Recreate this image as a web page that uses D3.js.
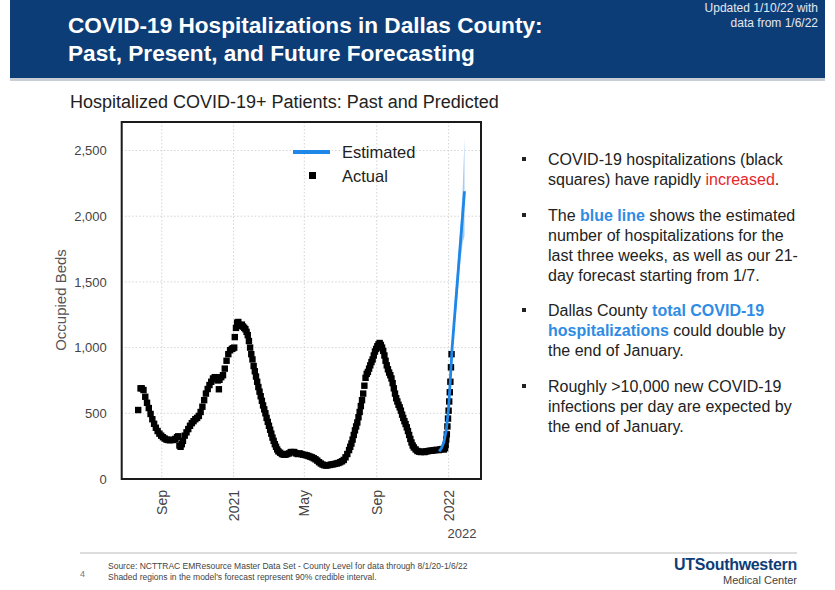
<!DOCTYPE html>
<html><head><meta charset="utf-8">
<script src="https://cdnjs.cloudflare.com/ajax/libs/d3/7.8.5/d3.min.js"></script>
<style>
body{margin:0;background:#fff;}
svg{display:block;font-family:"Liberation Sans",Arial,Helvetica,sans-serif;}
</style></head>
<body><svg id="c" width="835" height="590"></svg>
<script>
// ---- data ----
const actualDates = [
"2020-07-23","2020-07-27","2020-07-29","2020-08-01","2020-08-04","2020-08-07","2020-08-10","2020-08-13","2020-08-16","2020-08-19",
"2020-08-22","2020-08-25","2020-08-28","2020-08-31","2020-09-03","2020-09-06","2020-09-09","2020-09-12","2020-09-15","2020-09-18",
"2020-09-21","2020-09-24","2020-09-27","2020-09-29","2020-10-01","2020-10-03","2020-10-05","2020-10-07","2020-10-10","2020-10-13",
"2020-10-16","2020-10-19","2020-10-22","2020-10-25","2020-10-28","2020-10-31","2020-11-03","2020-11-06","2020-11-09","2020-11-12",
"2020-11-15","2020-11-18","2020-11-21","2020-11-24","2020-11-27","2020-11-30","2020-12-03","2020-12-05","2020-12-07","2020-12-08",
"2020-12-11","2020-12-14","2020-12-17","2020-12-20","2020-12-23","2020-12-26","2020-12-29","2020-12-31",
"2021-01-02","2021-01-03","2021-01-05","2021-01-07","2021-01-09","2021-01-11","2021-01-13","2021-01-15","2021-01-17","2021-01-19",
"2021-01-21","2021-01-23","2021-01-25","2021-01-27","2021-01-29","2021-01-31","2021-02-02","2021-02-04","2021-02-06","2021-02-08",
"2021-02-10","2021-02-12","2021-02-14","2021-02-16","2021-02-18","2021-02-20","2021-02-22","2021-02-24","2021-02-26","2021-02-28",
"2021-03-02","2021-03-04","2021-03-06","2021-03-08","2021-03-10","2021-03-12","2021-03-14","2021-03-16","2021-03-18","2021-03-21",
"2021-03-24","2021-03-27","2021-03-30","2021-04-02","2021-04-05","2021-04-08","2021-04-11","2021-04-14","2021-04-17","2021-04-20",
"2021-04-23","2021-04-26","2021-04-29","2021-05-02","2021-05-05","2021-05-08","2021-05-11","2021-05-14","2021-05-17","2021-05-20",
"2021-05-23","2021-05-26","2021-05-29","2021-06-01","2021-06-04","2021-06-07","2021-06-10","2021-06-13","2021-06-16","2021-06-19",
"2021-06-22","2021-06-25","2021-06-28","2021-07-01","2021-07-04","2021-07-07","2021-07-10","2021-07-13","2021-07-16","2021-07-18",
"2021-07-20","2021-07-22","2021-07-24","2021-07-26","2021-07-28","2021-07-30","2021-08-01","2021-08-03","2021-08-05","2021-08-07",
"2021-08-09","2021-08-11","2021-08-13","2021-08-15","2021-08-17","2021-08-19","2021-08-21","2021-08-23","2021-08-25","2021-08-27",
"2021-08-29","2021-08-31","2021-09-02","2021-09-04","2021-09-06","2021-09-08","2021-09-10","2021-09-12","2021-09-14","2021-09-16",
"2021-09-18","2021-09-20","2021-09-22","2021-09-24","2021-09-26","2021-09-28","2021-09-30","2021-10-02","2021-10-04","2021-10-06",
"2021-10-08","2021-10-10","2021-10-12","2021-10-14","2021-10-16","2021-10-18","2021-10-20","2021-10-22","2021-10-24","2021-10-26",
"2021-10-28","2021-10-30","2021-11-01","2021-11-03","2021-11-06","2021-11-09","2021-11-12","2021-11-15","2021-11-18","2021-11-21",
"2021-11-24","2021-11-27","2021-11-30","2021-12-03","2021-12-06","2021-12-09","2021-12-12","2021-12-15","2021-12-18","2021-12-21",
"2021-12-24","2021-12-26","2021-12-27","2021-12-28","2021-12-29","2021-12-30","2021-12-31",
"2022-01-01","2022-01-02","2022-01-03","2022-01-04","2022-01-05","2022-01-06"];
const actualValues = [
525,690,690,677,626,580,540,495,455,420,
390,365,345,330,318,308,300,297,295,298,
297,305,318,325,255,245,265,290,330,355,
380,405,425,440,455,465,480,510,550,600,
650,685,715,740,765,775,760,750,683,755,
775,790,840,900,950,980,990,995,
1000,1080,1150,1190,1195,1170,1165,1175,1160,1150,
1140,1120,1095,1050,1000,950,910,860,820,780,
740,700,665,630,595,560,530,500,465,435,
405,375,345,315,290,265,245,225,210,200,
190,185,185,190,195,205,205,205,195,190,
195,190,185,183,180,175,170,165,158,150,
140,128,118,110,105,102,105,107,110,112,
115,118,122,128,135,145,165,190,220,245,
270,300,335,370,400,430,470,510,555,600,
650,710,770,800,815,840,865,890,910,940,
970,990,1010,1025,1035,1020,1000,975,940,900,
865,835,810,790,765,730,690,650,615,590,
565,545,520,490,465,440,418,393,365,335,
305,278,255,240,225,213,208,205,208,205,
210,212,215,215,218,220,222,220,225,228,
225,235,260,300,340,400,460,
520,590,660,740,850,950];

const estDates = ["2021-12-16","2021-12-20","2021-12-24","2021-12-28","2022-01-01","2022-01-04","2022-01-07",
                  "2022-01-10","2022-01-13","2022-01-16","2022-01-19","2022-01-22","2022-01-25","2022-01-28"];
const estValues = [210,235,280,370,540,760,1000,1170,1340,1510,1680,1850,2020,2190];
const estLower  = [200,225,268,355,520,730,955,1100,1240,1380,1560,1700,1800,1850];
const estUpper  = [220,245,292,385,560,790,1045,1250,1450,1620,1780,1980,2220,2590];

const yTicks = [0,500,1000,1500,2000,2500];
const xTickDates = ["2020-09-01","2021-01-01","2021-05-01","2021-09-01","2022-01-01"];
const xTickLabels = ["Sep","2021","May","Sep","2022"];

// ---- drawing ----
const parse = d3.timeParse("%Y-%m-%d");
const svg = d3.select("#c");

// header
svg.append("rect").attr("x",10).attr("y",0).attr("width",815).attr("height",78).attr("fill","#0d3d77");
svg.append("rect").attr("x",10).attr("y",78).attr("width",815).attr("height",3).attr("fill","#c9ced6");
svg.append("text").attr("x",68).attr("y",33).attr("fill","#fff").attr("font-size",22.6).attr("font-weight","bold")
  .text("COVID-19 Hospitalizations in Dallas County:");
svg.append("text").attr("x",68).attr("y",61).attr("fill","#fff").attr("font-size",22.6).attr("font-weight","bold")
  .text("Past, Present, and Future Forecasting");
svg.append("text").attr("x",818).attr("y",12).attr("fill","#e3e8f0").attr("font-size",12).attr("text-anchor","end")
  .text("Updated 1/10/22 with");
svg.append("text").attr("x",818).attr("y",27).attr("fill","#e3e8f0").attr("font-size",12).attr("text-anchor","end")
  .text("data from 1/6/22");

svg.append("text").attr("x",70).attr("y",108).attr("fill","#222").attr("font-size",18)
  .text("Hospitalized COVID-19+ Patients: Past and Predicted");

// plot
const L=121.7, R=481, T=122, B=479;
const x = d3.scaleTime().domain([parse("2020-06-25"), parse("2022-02-25")]).range([L,R]);
const y = d3.scaleLinear().domain([0,2717]).range([B,T]);

const g = svg.append("g");
// grid
g.selectAll(".hg").data(yTicks.slice(1)).join("line")
  .attr("x1",L).attr("x2",R).attr("y1",d=>y(d)).attr("y2",d=>y(d))
  .attr("stroke","#d4d4d4").attr("stroke-width",1).attr("stroke-dasharray","1.5,2");
g.selectAll(".vg").data(xTickDates).join("line")
  .attr("x1",d=>x(parse(d))).attr("x2",d=>x(parse(d))).attr("y1",T).attr("y2",B)
  .attr("stroke","#d4d4d4").attr("stroke-width",1).attr("stroke-dasharray","1.5,2");

// y axis
const ya = svg.append("g").attr("transform",`translate(${L-12},0)`)
  .call(d3.axisLeft(y).tickValues(yTicks).tickSize(0).tickFormat(d3.format(",")));
ya.select(".domain").remove();
ya.selectAll("text").attr("fill","#444").attr("font-size",13).attr("font-family","Liberation Sans, Arial, sans-serif");

// x tick labels (rotated)
svg.selectAll(".xl").data(xTickDates).join("text")
  .attr("transform",(d)=>`translate(${x(parse(d))},490) rotate(-90)`)
  .attr("text-anchor","end").attr("dy","0.35em").attr("fill","#444").attr("font-size",14)
  .text((d,i)=>xTickLabels[i]);
svg.append("text").attr("x",x(parse("2022-01-01"))-1).attr("y",538).attr("fill","#444").attr("font-size",13)
  .text("2022");

// y label
svg.append("text").attr("transform","translate(66,300) rotate(-90)").attr("text-anchor","middle")
  .attr("fill","#555").attr("font-size",15).text("Occupied Beds");

// band
const est = estDates.map((d,i)=>({d:parse(d),v:estValues[i],lo:estLower[i],hi:estUpper[i]}));
g.append("path").datum(est)
  .attr("d",d3.area().x(d=>x(d.d)).y0(d=>y(d.lo)).y1(d=>y(d.hi)))
  .attr("fill","#a3cdf4");

// actual squares
const act = actualDates.map((d,i)=>({d:parse(d),v:actualValues[i]}));
const s = 6.4;
g.selectAll(".pt").data(act).join("rect")
  .attr("x",d=>x(d.d)-s/2).attr("y",d=>y(d.v)-s/2).attr("width",s).attr("height",s).attr("fill","#000");

// estimated line
g.append("path").datum(est)
  .attr("d",d3.line().x(d=>x(d.d)).y(d=>y(d.v)))
  .attr("fill","none").attr("stroke","#1f87e8").attr("stroke-width",2.8);

// frame
svg.append("rect").attr("x",L).attr("y",T).attr("width",R-L).attr("height",B-T)
  .attr("fill","none").attr("stroke","#1a1a1a").attr("stroke-width",2);

// legend
svg.append("line").attr("x1",293).attr("x2",330).attr("y1",152).attr("y2",152)
  .attr("stroke","#1f87e8").attr("stroke-width",4);
svg.append("text").attr("x",342).attr("y",158).attr("font-size",16.5).attr("fill","#222").text("Estimated");
svg.append("rect").attr("x",309).attr("y",172).attr("width",7).attr("height",7).attr("fill","#000");
svg.append("text").attr("x",342).attr("y",182).attr("font-size",16.5).attr("fill","#222").text("Actual");

// bullets
const bullets = [
  {y:165, lines:[[["COVID-19 hospitalizations (black",""]],[["squares) have rapidly ",""],["increased","red"],[".",""]]]},
  {y:221, lines:[[["The ",""],["blue line","blue"],[" shows the estimated",""]],[["number of hospitalizations for the",""]],[["last three weeks, as well as our 21-",""]],[["day forecast starting from 1/7.",""]]]},
  {y:316, lines:[[["Dallas County ",""],["total COVID-19","blue"]],[["hospitalizations","blue"],[" could double by",""]],[["the end of January.",""]]]},
  {y:392, lines:[[["Roughly >10,000 new COVID-19",""]],[["infections per day are expected by",""]],[["the end of January.",""]]]}
];
bullets.forEach(b=>{
  svg.append("rect").attr("x",522).attr("y",b.y-8).attr("width",4).attr("height",4).attr("fill","#222");
  b.lines.forEach((ln,li)=>{
    const t = svg.append("text").attr("x",548).attr("y",b.y+li*20).attr("font-size",16).attr("fill","#222");
    ln.forEach(([txt,st])=>{
      const ts = t.append("tspan").text(txt);
      if(st==="red") ts.attr("fill","#e5262b");
      if(st==="blue") ts.attr("fill","#2f8ce4").attr("font-weight","bold");
    });
  });
});

// footer
svg.append("line").attr("x1",80).attr("x2",797).attr("y1",553).attr("y2",553).attr("stroke","#bbb").attr("stroke-width",1);
svg.append("text").attr("x",80).attr("y",577).attr("font-size",9).attr("fill","#777").text("4");
svg.append("text").attr("x",108).attr("y",569).attr("font-size",8.5).attr("fill","#444")
  .text("Source: NCTTRAC EMResource Master Data Set - County Level for data through 8/1/20-1/6/22");
svg.append("text").attr("x",108).attr("y",580).attr("font-size",8.5).attr("fill","#444")
  .text("Shaded regions in the model's forecast represent 90% credible interval.");
svg.append("text").attr("x",797).attr("y",570).attr("font-size",16).attr("font-weight","bold").attr("fill","#0d3d77")
  .attr("text-anchor","end").attr("letter-spacing","-0.3").text("UTSouthwestern");
svg.append("text").attr("x",797).attr("y",584).attr("font-size",11).attr("fill","#444")
  .attr("text-anchor","end").text("Medical Center");
</script></body></html>
